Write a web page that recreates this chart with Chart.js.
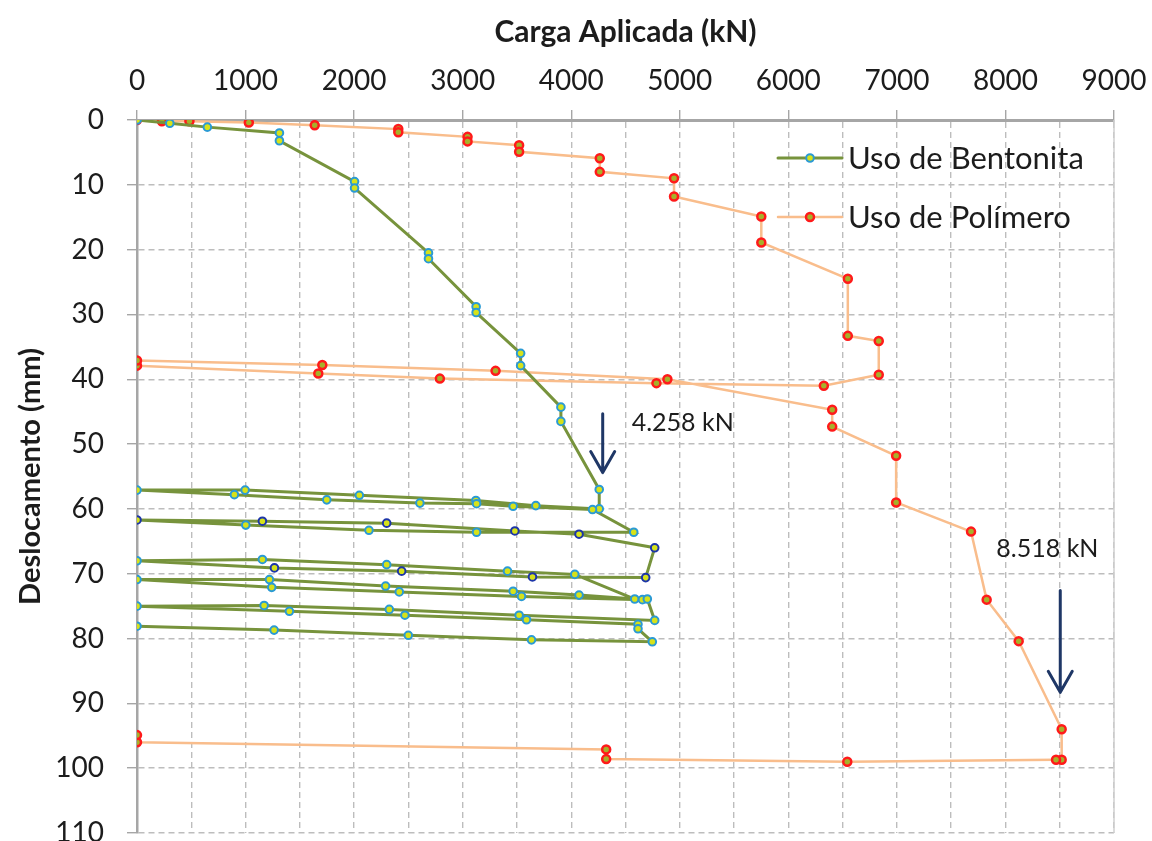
<!DOCTYPE html>
<html>
<head>
<meta charset="utf-8">
<script src="https://cdn.jsdelivr.net/npm/chart.js@4.4.0/dist/chart.umd.min.js"></script>
<style>
  html, body { margin: 0; padding: 0; background: #ffffff; }
  #wrap { width: 1152px; height: 841px; position: relative; }
</style>
</head>
<body>
<div id="wrap"><canvas id="grafico" width="1152" height="841"></canvas></div>
<script>
// Prova de carga: carga aplicada (kN) x deslocamento (mm)
const bentonitaCarga = [
  0, 302, 648, 1312, 1312, 2004, 2004, 2685, 2685, 3124, 3124, 3534, 3534, 3905, 3905, 4258, 4258,
  3674, 3122, 2048, 996, 0,
  897, 1748, 2606, 3128, 3465, 4196,
  4576,
  3128, 2137, 1002, 0,
  1155, 2300, 3481, 4072, 4769,
  4686,
  3643, 2438, 1266, 0,
  1155, 2300, 3413, 4033, 4585,
  4072, 3465, 2290, 1220, 0,
  1241, 2416, 3542, 4656, 4701, 4769,
  3520, 2324, 1171, 0,
  1404, 2468, 3588, 4615, 4615, 4747,
  3634, 2499, 1263, 0
];
const bentonitaDesloc = [
  0, 0.5, 1.1, 2.0, 3.2, 9.5, 10.5, 20.5, 21.4, 28.8, 29.7, 36.0, 37.9, 44.3, 46.5, 57.0, 60.0,
  59.5, 58.7, 57.9, 57.1, 57.1,
  57.8, 58.6, 59.1, 59.2, 59.6, 60.1,
  63.6,
  63.6, 63.3, 62.5, 61.7,
  61.9, 62.2, 63.4, 63.9, 66.0,
  70.6,
  70.5, 69.6, 69.1, 68.0,
  67.8, 68.6, 69.6, 70.1, 73.9,
  73.3, 72.7, 71.9, 70.9, 70.9,
  72.1, 72.8, 73.5, 74.0, 73.9, 77.2,
  76.4, 75.5, 74.9, 75.0,
  75.8, 76.4, 77.1, 77.8, 78.5, 80.5,
  80.2, 79.5, 78.7, 78.1
];
const polimeroCarga = [
  0, 229, 483, 1030, 1637, 2407, 2407, 3045, 3045, 3520, 3520, 4263, 4263, 4947, 4947,
  5751, 5751, 6548, 6548, 6833, 6833,
  6327, 4785, 2790, 1670, 0,
  0, 1707, 3303, 4886, 6404, 6404, 6993, 6993, 7683, 7827, 8122, 8518, 8518,
  8466, 6543, 4322, 4322, 0, 0
];
const polimeroDesloc = [
  0, 0.2, 0.2, 0.4, 0.8, 1.4, 1.9, 2.6, 3.3, 3.9, 4.9, 5.9, 8.0, 9.0, 11.8,
  14.9, 18.9, 24.5, 33.3, 34.1, 39.3,
  41.0, 40.6, 39.9, 39.1, 37.9,
  37.1, 37.8, 38.7, 40.0, 44.7, 47.3, 51.8, 59.0, 63.5, 74.0, 80.4, 94.0, 98.7,
  98.7, 99.0, 98.6, 97.1, 96.0, 94.9
];
const nomesSeries = ['Uso de Bentonita', 'Uso de Polímero'];
const cargasMaximas = [4258, 8518];

const pares = (xs, ys) => xs.map((v, i) => ({ x: v, y: ys[i] }));
const fmtKN = v => (v / 1000).toFixed(3) + ' kN';

const FONTE = 'Lato, "Open Sans", "Noto Sans", sans-serif';
const TEXTO = '#1c1c1c';
const GRADE = '#bdbdbd';
const EIXO = '#a6a6a6';
const SETA = '#1f3766';

// pontos do segundo ciclo de recarga/descarga com contorno escuro
const cicloEscuro = { de: 32, ate: 41 };

// Setas e rótulos das cargas de ruptura (coordenadas em unidades dos eixos)
const anotacoes = [
  { texto: fmtKN(cargasMaximas[0]), setaX: 4290, setaY0: 45.3, setaY1: 54.4, textoX: 4557, textoY: 46.8 },
  { texto: fmtKN(cargasMaximas[1]), setaX: 8505, setaY0: 72.6, setaY1: 88.3, textoX: 7916, textoY: 66.1 }
];

const pluginExtras = {
  id: 'extras',
  beforeDatasetsDraw(chart) {
    // contorno direito da área de plotagem
    const { ctx, chartArea: a } = chart;
    ctx.save();
    ctx.strokeStyle = '#cfcfcf';
    ctx.lineWidth = 1.5;
    ctx.beginPath();
    ctx.moveTo(a.right, a.top);
    ctx.lineTo(a.right, a.bottom);
    ctx.stroke();
    ctx.restore();
  },
  afterDatasetsDraw(chart) {
    const { ctx, scales: { x, y } } = chart;
    ctx.save();
    // setas
    anotacoes.forEach(a => {
      const px = x.getPixelForValue(a.setaX);
      const p0 = y.getPixelForValue(a.setaY0);
      const p1 = y.getPixelForValue(a.setaY1);
      ctx.strokeStyle = SETA;
      ctx.lineWidth = 3;
      ctx.lineCap = 'round';
      ctx.lineJoin = 'round';
      ctx.beginPath();
      ctx.moveTo(px, p0);
      ctx.lineTo(px, p1);
      ctx.moveTo(px - 12, p1 - 21);
      ctx.lineTo(px, p1);
      ctx.lineTo(px + 12, p1 - 21);
      ctx.stroke();
      ctx.fillStyle = TEXTO;
      ctx.font = '25px ' + FONTE;
      ctx.textAlign = 'left';
      ctx.textBaseline = 'middle';
      ctx.fillText(a.texto, x.getPixelForValue(a.textoX), y.getPixelForValue(a.textoY));
    });
    // legenda
    const linhasLegenda = [158, 217];
    chart.data.datasets.forEach((ds, i) => {
      const ly = linhasLegenda[i];
      const lx0 = 778, lx1 = 842, mx = 810;
      ctx.strokeStyle = ds.borderColor;
      ctx.lineWidth = ds.borderWidth;
      ctx.beginPath();
      ctx.moveTo(lx0, ly);
      ctx.lineTo(lx1, ly);
      ctx.stroke();
      ctx.beginPath();
      ctx.arc(mx, ly, ds.pointRadius, 0, Math.PI * 2);
      ctx.fillStyle = ds.pointBackgroundColor;
      ctx.fill();
      ctx.lineWidth = ds.pointBorderWidth;
      ctx.strokeStyle = ds.legendBorder;
      ctx.stroke();
      ctx.fillStyle = TEXTO;
      ctx.font = '31px ' + FONTE;
      ctx.textAlign = 'left';
      ctx.textBaseline = 'middle';
      ctx.fillText(ds.label, 848, ly + 1);
    });
    ctx.restore();
  }
};

new Chart(document.getElementById('grafico'), {
  type: 'scatter',
  data: {
    datasets: [
      {
        label: nomesSeries[0],
        data: pares(bentonitaCarga, bentonitaDesloc),
        showLine: true,
        borderColor: '#77933c',
        borderWidth: 3,
        pointRadius: 3.8,
        pointBorderWidth: 2,
        legendBorder: '#2a9ad4',
        pointBorderColor: c => (c.dataIndex >= cicloEscuro.de && c.dataIndex <= cicloEscuro.ate ? '#1c35a8' : '#2a9ad4'),
        pointBackgroundColor: '#d6e21a',
        tension: 0
      },
      {
        label: nomesSeries[1],
        data: pares(polimeroCarga, polimeroDesloc),
        showLine: true,
        borderColor: '#f9bd8c',
        borderWidth: 2.5,
        pointRadius: 4,
        pointBorderWidth: 2.5,
        legendBorder: '#ff1a1a',
        pointBorderColor: '#ff1a1a',
        pointBackgroundColor: '#a7b02a',
        tension: 0
      }
    ]
  },
  options: {
    responsive: false,
    animation: false,
    devicePixelRatio: 1,
    layout: { padding: { left: 0, top: 0, right: 38, bottom: 8 } },
    plugins: { legend: { display: false }, tooltip: { enabled: false } },
    scales: {
      x: {
        type: 'linear',
        position: 'top',
        min: 0,
        max: 9000,
        afterFit(s) { s.height = 120; s.paddingLeft = 0; s.paddingRight = 0; },
        ticks: {
          stepSize: 500,
          autoSkip: false,
          maxRotation: 0,
          padding: 12,
          color: TEXTO,
          font: { family: FONTE, size: 28 },
          callback: v => (v % 1000 === 0 ? String(v) : '')
        },
        grid: {
          color: GRADE,
          lineWidth: 1.4,
          tickLength: 10,
          tickWidth: 1.4,
          tickColor: c => (c.tick && c.tick.value % 1000 === 0 ? EIXO : 'rgba(0,0,0,0)')
        },
        border: { color: EIXO, width: 3, dash: [6, 4] },
        title: {
          display: true,
          text: 'Carga Aplicada (kN)',
          color: TEXTO,
          font: { family: FONTE, size: 30, weight: 'bold' },
          padding: { top: 14, bottom: 0 }
        }
      },
      y: {
        type: 'linear',
        reverse: true,
        min: 0,
        max: 110,
        afterFit(s) { s.width = 137; s.paddingTop = 0; s.paddingBottom = 0; },
        ticks: {
          stepSize: 10,
          padding: 23,
          color: TEXTO,
          font: { family: FONTE, size: 28 }
        },
        grid: {
          color: GRADE,
          lineWidth: 1.4,
          tickLength: 10,
          tickWidth: 1.4,
          tickColor: EIXO
        },
        border: { color: EIXO, width: 2.5, dash: [6, 4] },
        title: {
          display: true,
          text: 'Deslocamento (mm)',
          color: TEXTO,
          font: { family: FONTE, size: 29, weight: 'bold' },
          padding: { top: 13, bottom: 0 }
        }
      }
    }
  },
  plugins: [pluginExtras]
});
</script>
</body>
</html>
